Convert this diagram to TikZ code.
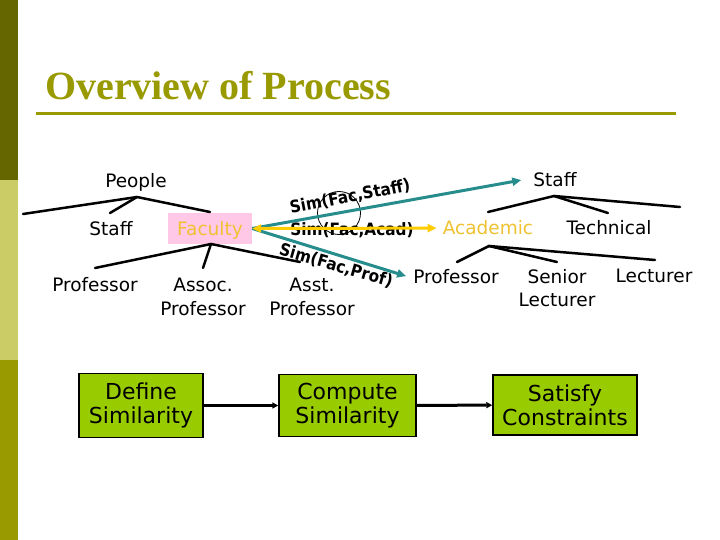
\documentclass[tikz,border=0pt]{standalone}
\usepackage{fontspec}
\setmainfont{DejaVu Sans}
\newfontfamily\titlefont{Liberation Serif}
\usetikzlibrary{arrows.meta}
\definecolor{darkolive}{HTML}{666600}
\definecolor{lightolive}{HTML}{CCCC66}
\definecolor{olive}{HTML}{999900}
\definecolor{tealc}{RGB}{38,140,140}
\definecolor{yelarrow}{HTML}{FFCC00}
\definecolor{yeltext}{HTML}{F0C232}
\definecolor{pinkbg}{HTML}{FFC8E6}
\definecolor{boxgreen}{HTML}{99CC00}
\newcommand{\simtxt}[1]{\scalebox{0.9}[1]{#1}}
\begin{document}
\begin{tikzpicture}[x=1pt,y=-1pt,
  lab/.style={anchor=base, inner sep=0pt, font=\fontsize{18.5}{24}\selectfont},
  facbox/.style={fill=pinkbg, text=yeltext, minimum width=84pt, minimum height=31pt, text height=16pt, text depth=1pt},
  tree/.style={line width=2.5pt, black, line cap=round},
  simlab/.style={inner sep=0pt, font=\bfseries\fontsize{17}{20}\selectfont},
  tealarr/.style={draw=tealc, line width=3pt, -{Triangle[length=9pt,width=8pt]}},
  yelarr/.style={draw=yelarrow, line width=3pt, {Triangle[length=9pt,width=8pt]}-{Triangle[length=9pt,width=8pt]}},
  procbox/.style={draw=black, line width=1.5pt, fill=boxgreen, align=center, inner sep=0pt, font=\fontsize{22}{24}\selectfont},
  flow/.style={line width=3pt, -{Triangle[length=6pt,width=6pt]}}]
\useasboundingbox (0,0) rectangle (720,540);
\fill[white] (0,0) rectangle (720,540);
% left bar
\fill[darkolive] (0,0) rectangle (18,180);
\fill[lightolive] (0,180) rectangle (18,360);
\fill[olive] (0,360) rectangle (18,540);
% title
\node[anchor=base west, inner sep=0pt, text=olive, font=\titlefont\bfseries\fontsize{40}{44}\selectfont] (title) at (45,100) {Overview of Process};
\coordinate (ulA) at (36,114);
\coordinate (ulB) at (676,114);
\draw[olive, line width=3pt] (ulA) -- (ulB);

% left tree labels
\node[lab] (people) at (136,188) {People};
\node[lab] (staffL) at (111,236) {Staff};
\node[lab, facbox] (fac) at (210,236) {Faculty};
\node[lab] (profL) at (95,291) {Professor};
\node[lab] (assoc) at (203,291) {\begin{tabular}[t]{@{}c@{}}Assoc.\\Professor\end{tabular}};
\node[lab] (asst) at (312,291) {\begin{tabular}[t]{@{}c@{}}Asst.\\Professor\end{tabular}};

% right tree labels
\node[lab] (staffR) at (555,187) {Staff};
\node[lab, text=yeltext] (acad) at (488,235) {Academic};
\node[lab] (tech) at (609,235) {Technical};
\node[lab] (profR) at (456,283) {Professor};
\node[lab] (senior) at (557,283) {\begin{tabular}[t]{@{}c@{}}Senior\\Lecturer\end{tabular}};
\node[lab] (lect) at (654,282) {Lecturer};

% tree lines: People
\coordinate (pA) at (137,197);
\coordinate (pL) at (23,214);
\coordinate (pM) at (110,213);
\coordinate (pR) at (210,212);
\draw[tree] (pL) -- (pA) -- (pR);
\draw[tree] (pA) -- (pM);
% Faculty
\coordinate (fA) at (211,244);
\coordinate (fL) at (95,268);
\coordinate (fM) at (203,268);
\coordinate (fR) at (300,262);
\draw[tree] (fL) -- (fA) -- (fR);
\draw[tree] (fA) -- (fM);
% Staff (right)
\coordinate (sA) at (554,196);
\coordinate (sL) at (488,212);
\coordinate (sM) at (608,213);
\coordinate (sR) at (680,207);
\draw[tree] (sL) -- (sA) -- (sR);
\draw[tree] (sA) -- (sM);
% Academic
\coordinate (aA) at (489,246);
\coordinate (aL) at (457,262);
\coordinate (aM) at (557,262);
\coordinate (aR) at (655,260);
\draw[tree] (aL) -- (aA) -- (aR);
\draw[tree] (aA) -- (aM);

% similarity labels
\node[simlab, rotate=11] (simS) at (350,197) {\simtxt{Sim(Fac,Staff)}};
\node[simlab] (simA) at (352,230) {\simtxt{Sim(Fac,Acad)}};
\node[simlab, rotate=-16] (simP) at (336,266) {\simtxt{Sim(Fac,Prof)}};
\node[circle, draw, line width=0.8pt, minimum size=43pt, inner sep=0pt] (ring) at (339,213) {};

% arrows
\draw[tealarr] (fac.east) -- ([xshift=-12pt]staffR.west);
\draw[tealarr] (fac.east) -- ([xshift=-7pt]profR.west);
\draw[yelarr] (fac.east) -- ([xshift=-6pt]acad.west);

% process boxes
\node[procbox, minimum width=124pt, minimum height=64pt] (define) at (141,405.5) {Define\\Similarity};
\node[procbox, minimum width=137pt, minimum height=62pt] (compute) at (347.5,405.5) {Compute\\Similarity};
\node[procbox, minimum width=144pt, minimum height=60pt] (satisfy) at (565,405) {Satisfy\\Constraints};
\draw[flow] (define) -- (compute);
\draw[flow] (compute) -- (satisfy);
\end{tikzpicture}
\end{document}
